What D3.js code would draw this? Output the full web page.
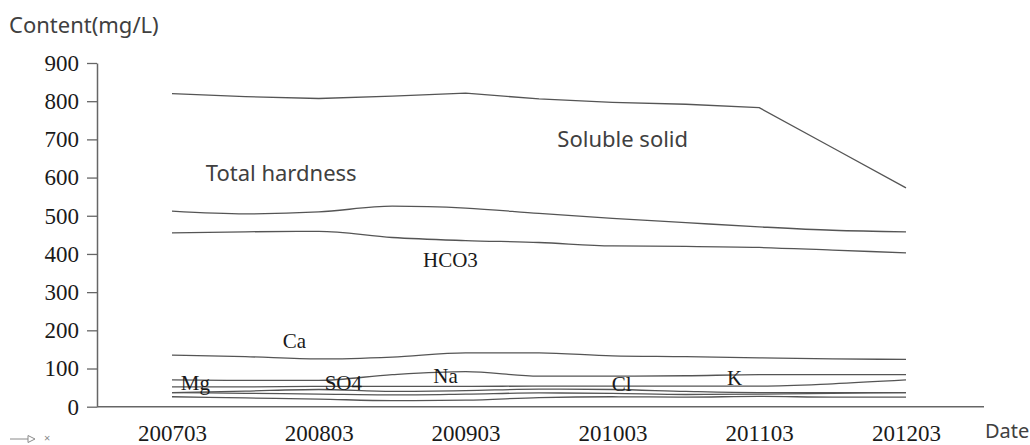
<!DOCTYPE html>
<html>
<head>
<meta charset="utf-8">
<script src="https://cdn.jsdelivr.net/npm/d3@7/dist/d3.min.js"></script>
<style>
  html, body { margin: 0; padding: 0; background: #fff; }
  svg { display: block; }
</style>
</head>
<body>
<svg id="chart" width="1030" height="445"></svg>
<script>
// Half-yearly sampling dates (index 0..10) and the yearly axis labels
const sampleDates = ["200703","200709","200803","200809","200903","200909","201003","201009","201103","201109","201203"];
const yearLabels  = ["200703","200803","200903","201003","201103","201203"];
const yTicks = [0,100,200,300,400,500,600,700,800,900];

// Concentrations in mg/L at each sampling date
const solubleSolid  = [820, 812, 807, 813, 821, 806, 797, 792, 783, 678, 573];
const totalHardness = [512, 505, 510, 525, 520, 506, 493, 482, 471, 462, 458];
const hco3 = [455, 458, 459, 443, 435, 430, 421, 420, 417, 410, 403];
const ca   = [135, 131, 125, 130, 141, 141, 133, 131, 128, 125, 124];
const na   = [70, 69, 69, 84, 92, 80, 80, 81, 84, 84, 84];
const so4  = [52, 52, 53, 53, 53, 54, 54, 54, 54, 60, 70];
const cl   = [37, 41, 45, 40, 42, 46, 45, 40, 37, 37, 37];
const mg   = [37, 35, 33, 31, 33, 36, 35, 32, 33, 35, 37];
const k    = [26, 23, 20, 16, 17, 24, 26, 25, 27, 25, 25];

// Soluble solid is drawn as a polyline (sharp knee in 2011), the rest smoothed
const seriesList = [
  { values: solubleSolid, smooth: false },
  { values: totalHardness, smooth: true },
  { values: hco3, smooth: true },
  { values: ca, smooth: true },
  { values: na, smooth: true },
  { values: so4, smooth: true },
  { values: cl, smooth: true },
  { values: mg, smooth: true },
  { values: k, smooth: true }
];

// Series captions anchored in data units (sample index, mg/L)
const captions = [
  { text: "Total hardness", i: 0.46, v: 590, sans: true },
  { text: "Soluble solid",  i: 5.25, v: 679, sans: true },
  { text: "HCO3", i: 3.42, v: 365 },
  { text: "Ca",   i: 1.51, v: 154 },
  { text: "Mg",   i: 0.12, v: 44 },
  { text: "SO4",  i: 2.08, v: 44 },
  { text: "Na",   i: 3.56, v: 62 },
  { text: "Cl",   i: 5.99, v: 42 },
  { text: "K",    i: 7.56, v: 57 }
];

const svg = d3.select("#chart");
const axisX = 97, axisRight = 984;
const serif = "'Liberation Serif', 'DejaVu Serif', serif";
const sans  = "'Noto Sans', 'Open Sans', sans-serif";
const lineColor = "#555";

const x = d3.scaleLinear().domain([0, sampleDates.length - 1]).range([172, 906]);
const y = d3.scaleLinear().domain([0, 900]).range([406.7, 63]);

// y axis
const yAxis = svg.append("g")
  .attr("transform", `translate(${axisX},0)`)
  .call(d3.axisLeft(y).tickValues(yTicks).tickSize(10).tickSizeOuter(0).tickPadding(8));
yAxis.select(".domain").attr("stroke", "#666").attr("stroke-width", 1.5);
yAxis.selectAll(".tick line").attr("stroke", "#666").attr("stroke-width", 1.3);
yAxis.selectAll(".tick text")
  .attr("font-family", serif).attr("font-size", 23).attr("fill", "#1a1a1a");

// x baseline and year labels
svg.append("line")
  .attr("x1", axisX).attr("x2", axisRight)
  .attr("y1", y(0)).attr("y2", y(0))
  .attr("stroke", "#666").attr("stroke-width", 1.5);

const xAxis = svg.append("g")
  .attr("transform", `translate(0,${y(0)})`)
  .call(d3.axisBottom(x)
    .tickValues(yearLabels.map(l => sampleDates.indexOf(l)))
    .tickFormat(i => sampleDates[i])
    .tickSize(0).tickPadding(18));
xAxis.select(".domain").remove();
xAxis.selectAll(".tick text")
  .attr("font-family", serif).attr("font-size", 23).attr("fill", "#1a1a1a");

// series lines
const smoothLine = d3.line().x((d, i) => x(i)).y(d => y(d)).curve(d3.curveMonotoneX);
const straightLine = d3.line().x((d, i) => x(i)).y(d => y(d));

svg.append("g").selectAll("path")
  .data(seriesList)
  .join("path")
  .attr("d", s => (s.smooth ? smoothLine : straightLine)(s.values))
  .attr("fill", "none")
  .attr("stroke", lineColor)
  .attr("stroke-width", 1.3)
  .attr("stroke-linejoin", "round");

// captions
svg.append("g").selectAll("text")
  .data(captions)
  .join("text")
  .attr("x", d => x(d.i))
  .attr("y", d => y(d.v))
  .attr("font-family", d => d.sans ? sans : serif)
  .attr("font-size", d => d.sans ? 22 : 21)
  .attr("fill", d => d.sans ? "#404040" : "#1a1a1a")
  .text(d => d.text);

// axis titles
svg.append("text")
  .attr("x", 9).attr("y", 33)
  .attr("font-family", sans).attr("font-size", 22).attr("fill", "#404040")
  .text("Content(mg/L)");
svg.append("text")
  .attr("x", axisRight + 1).attr("y", 438)
  .attr("font-family", sans).attr("font-size", 20).attr("fill", "#404040")
  .text("Date");

// small direction marker at lower left
const mk = svg.append("g").attr("stroke", "#8a8a8a").attr("fill", "none").attr("stroke-width", 1);
mk.append("line").attr("x1", 10).attr("x2", 28).attr("y1", 439).attr("y2", 439);
mk.append("path").attr("d", "M28,435.5 L35,439 L28,442.5 Z");
svg.append("text")
  .attr("x", 44).attr("y", 442)
  .attr("font-family", sans).attr("font-size", 11).attr("fill", "#8a8a8a")
  .text("×");
</script>
</body>
</html>
